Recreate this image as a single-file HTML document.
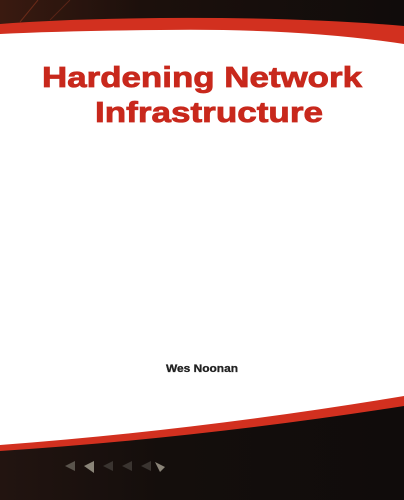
<!DOCTYPE html>
<html><head><style>
html,body{margin:0;padding:0;background:#fff;}
svg{display:block;}
</style></head><body>
<svg width="404" height="500" viewBox="0 0 404 500" xmlns="http://www.w3.org/2000/svg">
<defs>
<linearGradient id="tg" x1="0" y1="0" x2="1" y2="0">
<stop offset="0" stop-color="#3a1a10"/><stop offset="0.35" stop-color="#1c100c"/><stop offset="1" stop-color="#100c0b"/>
</linearGradient>
<linearGradient id="bg" x1="0" y1="0" x2="1" y2="0">
<stop offset="0" stop-color="#221410"/><stop offset="0.4" stop-color="#140e0c"/><stop offset="1" stop-color="#100c0b"/>
</linearGradient>
</defs>
<rect width="404" height="500" fill="#fff"/>
<path d="M0 0 H404 V44 Q300 28 160 30 Q60 31 0 34 Z" fill="#d2301f"/>
<path d="M0 0 H404 V26 Q300 17 160 18 Q60 19 0 24 Z" fill="url(#tg)"/>
<line x1="20" y1="22" x2="38" y2="0" stroke="#6a2a18" stroke-width="1"/>
<line x1="50" y1="20" x2="70" y2="0" stroke="#5a2416" stroke-width="1"/>
<path d="M0 445 Q200 430 404 396 V500 H0 Z" fill="#d2301f"/>
<path d="M0 451 Q200 438 404 406 V500 H0 Z" fill="url(#bg)"/>
<g>
<polygon points="65,466 75,461 75,471" fill="#5a544c"/>
<polygon points="84,466 94,461 94,473" fill="#8a8478"/>
<polygon points="103,466 113,461 113,471" fill="#3a3430"/>
<polygon points="122,466 132,461 132,471" fill="#3a3430"/>
<polygon points="141,466 151,461 151,471" fill="#3a3430"/>
<polygon points="155,462 165,467 160,472" fill="#8a8478"/>
</g>
<g font-family="Liberation Sans, Arial, sans-serif" font-weight="bold" fill="#c8281c" stroke="#c8281c" stroke-width="0.8">
<text x="202" y="87" text-anchor="middle" font-size="29" textLength="320" lengthAdjust="spacingAndGlyphs">Hardening Network</text>
<text x="209" y="122" text-anchor="middle" font-size="29" textLength="228" lengthAdjust="spacingAndGlyphs">Infrastructure</text>
</g>
<text x="202" y="372" text-anchor="middle" font-family="Liberation Sans, Arial, sans-serif" font-weight="bold" font-size="11" fill="#222" stroke="#222" stroke-width="0.3" textLength="72" lengthAdjust="spacingAndGlyphs">Wes Noonan</text>
</svg>
</body></html>
